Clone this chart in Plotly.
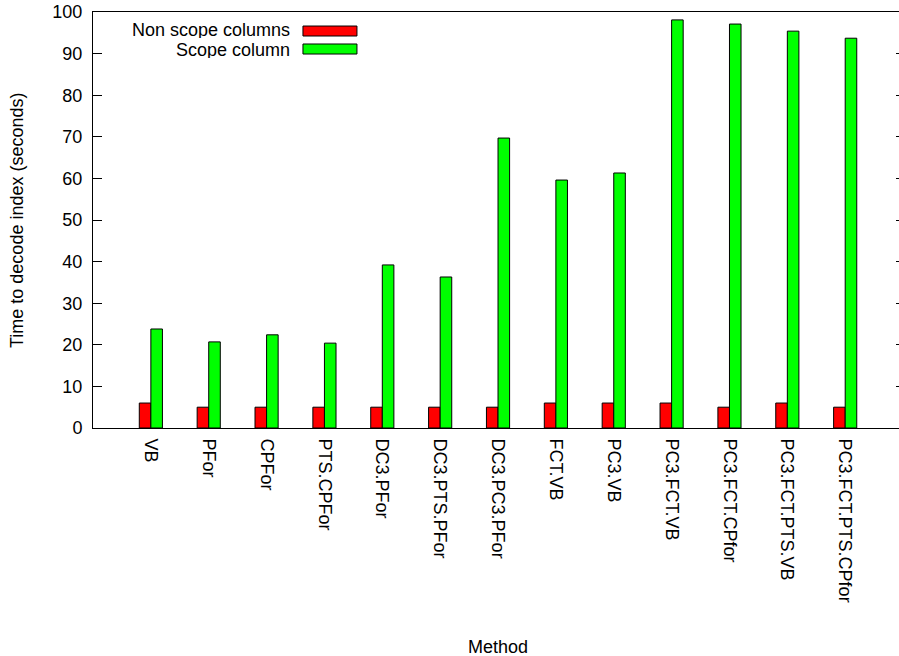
import plotly.graph_objects as go

methods = ["VB", "PFor", "CPFor", "PTS.CPFor", "DC3.PFor", "DC3.PTS.PFor", "DC3.PC3.PFor",
           "FCT.VB", "PC3.VB", "PC3.FCT.VB", "PC3.FCT.CPfor", "PC3.FCT.PTS.VB", "PC3.FCT.PTS.CPfor"]
non_scope = [6, 5, 5, 5, 5, 5, 5, 6, 6, 6, 5, 6, 5]
scope = [23.8, 20.7, 22.4, 20.4, 39.2, 36.3, 69.7, 59.6, 61.3, 98.1, 97.1, 95.4, 93.7]
y_ticks = [0, 10, 20, 30, 40, 50, 60, 70, 80, 90, 100]

FONT = "Liberation Sans, Arial, Helvetica, sans-serif"
FS = 18
xs = list(range(len(methods)))

fig = go.Figure()
fig.add_trace(go.Bar(x=xs, y=non_scope, name="Non scope columns",
                     marker=dict(color="#ff0000", line=dict(color="#000000", width=1)),
                     showlegend=False))
fig.add_trace(go.Bar(x=xs, y=scope, name="Scope column",
                     marker=dict(color="#00ff00", line=dict(color="#000000", width=1)),
                     showlegend=False))
# invisible trace for right-side mirrored ticks
fig.add_trace(go.Scatter(x=[xs[0]], y=[0], yaxis="y2", mode="markers",
                         marker=dict(opacity=0), showlegend=False, hoverinfo="skip"))

fig.update_layout(
    width=899, height=656,
    margin=dict(l=93, r=0, t=12, b=228),
    paper_bgcolor="white", plot_bgcolor="white",
    font=dict(family=FONT, size=FS, color="black"),
    barmode="group", bargap=0.6, bargroupgap=0,
    xaxis=dict(range=[-1, 12.93], tickmode="array", tickvals=xs, ticktext=methods,
               tickangle=90, ticks="", showline=True, linecolor="black", linewidth=1,
               mirror=True, showgrid=False, zeroline=False, ticklabelstandoff=6,
               tickfont=dict(family=FONT, size=FS)),
    yaxis=dict(range=[0, 100], tickmode="array", tickvals=y_ticks,
               ticks="inside", ticklen=9, tickcolor="black", showline=True,
               linecolor="black", linewidth=1, showgrid=False, zeroline=False,
               ticklabelstandoff=6, tickfont=dict(family=FONT, size=FS)),
    yaxis2=dict(range=[0, 100], overlaying="y", side="right", tickmode="array",
                tickvals=y_ticks, ticks="inside", ticklen=3, tickcolor="black",
                showticklabels=False, showline=False, showgrid=False, zeroline=False),
    annotations=[
        dict(text="Time to decode index (seconds)", xref="paper", yref="paper",
             x=-0.0943, y=0.5, xanchor="center", yanchor="middle", textangle=-90,
             showarrow=False, font=dict(family=FONT, size=FS)),
        dict(text="Method", xref="paper", yref="paper", x=0.5025, y=-0.526,
             xanchor="center", yanchor="middle", showarrow=False,
             font=dict(family=FONT, size=FS)),
        dict(text="Non scope columns", xref="paper", yref="paper", x=0.2469, y=0.9579,
             xanchor="right", yanchor="middle", showarrow=False, height=16,
             font=dict(family=FONT, size=FS)),
        dict(text="Scope column", xref="paper", yref="paper", x=0.2469, y=0.9075,
             xanchor="right", yanchor="middle", showarrow=False, height=16,
             font=dict(family=FONT, size=FS)),
    ],
    shapes=[
        dict(type="rect", xref="paper", yref="paper", x0=0.2605, x1=0.3275,
             y0=0.9423, y1=0.9663, fillcolor="#ff0000", line=dict(color="black", width=1)),
        dict(type="rect", xref="paper", yref="paper", x0=0.2605, x1=0.3275,
             y0=0.899, y1=0.9231, fillcolor="#00ff00", line=dict(color="black", width=1)),
    ],
)

fig.write_html("out.html", config={"displayModeBar": False},
               post_script="document.body.style.margin='0';document.body.style.overflow='hidden';")
